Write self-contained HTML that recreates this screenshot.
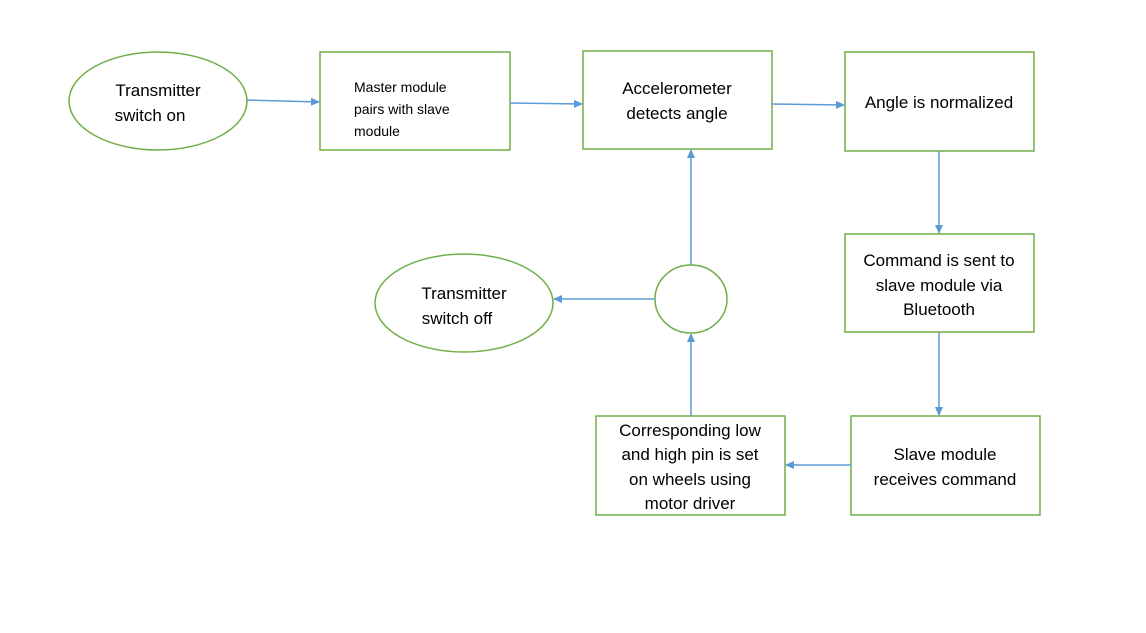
<!DOCTYPE html>
<html><head><meta charset="utf-8"><style>body{margin:0;background:#fff}svg{display:block}</style></head><body>
<svg width="1146" height="633" xmlns="http://www.w3.org/2000/svg" font-family="Liberation Sans, sans-serif" fill="#000">
<defs><marker id="a" markerWidth="10" markerHeight="10" refX="8" refY="4" orient="auto" markerUnits="userSpaceOnUse"><path d="M0,0 L9,4 L0,8 z" fill="#5B9BD5"/></marker></defs>
<g fill="#fff" stroke="#70AD47" stroke-width="1.5">
<ellipse cx="158" cy="101" rx="89" ry="49"/>
<rect x="320" y="52" width="190" height="98"/>
<rect x="583" y="51" width="189" height="98"/>
<rect x="845" y="52" width="189" height="99"/>
<rect x="845" y="234" width="189" height="98"/>
<rect x="851" y="416" width="189" height="99"/>
<rect x="596" y="416" width="189" height="99"/>
<ellipse cx="691" cy="299" rx="36" ry="34"/>
<ellipse cx="464" cy="303" rx="89" ry="49"/>
</g>
<g stroke="#5B9BD5" stroke-width="1.5" fill="none" marker-end="url(#a)">
<line x1="247" y1="100" x2="319" y2="102"/>
<line x1="510" y1="103" x2="582" y2="104"/>
<line x1="772" y1="104" x2="844" y2="105"/>
<line x1="939" y1="151" x2="939" y2="233"/>
<line x1="939" y1="332" x2="939" y2="415"/>
<line x1="851" y1="465" x2="786" y2="465"/>
<line x1="691" y1="416" x2="691" y2="334"/>
<line x1="691" y1="265" x2="691" y2="150"/>
<line x1="655" y1="299" x2="554" y2="299"/>
</g>
<g font-size="17" text-anchor="middle">
<text x="158" y="96">Transmitter</text><text x="150" y="121">switch on</text>
<g font-size="14" text-anchor="start"><text x="354" y="92">Master module</text><text x="354" y="114">pairs with slave</text><text x="354" y="136">module</text></g>
<text x="677" y="94">Accelerometer</text><text x="677" y="119">detects angle</text>
<text x="939" y="108">Angle is normalized</text>
<text x="939" y="266">Command is sent to</text><text x="939" y="291">slave module via</text><text x="939" y="315">Bluetooth</text>
<text x="945" y="460">Slave module</text><text x="945" y="485">receives command</text>
<text x="690" y="436">Corresponding low</text><text x="690" y="460">and high pin is set</text><text x="690" y="485">on wheels using</text><text x="690" y="509">motor driver</text>
<text x="464" y="299">Transmitter</text><text x="457" y="324">switch off</text>
</g>
</svg>
</body></html>
